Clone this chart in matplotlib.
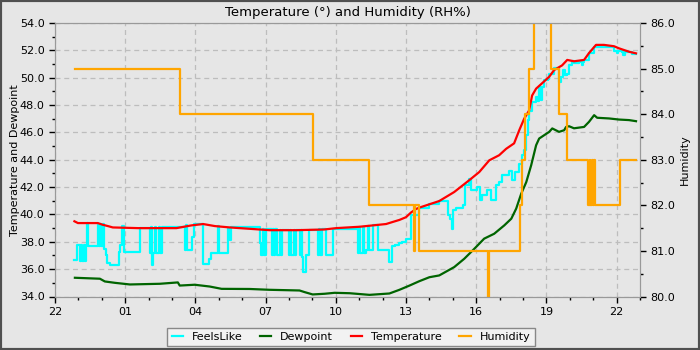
import matplotlib
matplotlib.use("Agg")
import matplotlib.pyplot as plt
from matplotlib.ticker import MultipleLocator, FixedLocator
from matplotlib.patches import Rectangle

# hours after 22:00
temp_t = [0.83, 0.98, 1.83, 2.03, 2.26, 2.47, 3.55, 5.19, 5.83, 6.33, 6.83, 7.47, 8.32, 9.17,
          10.31, 11.5, 12.02, 13.01, 13.58, 14.15, 14.43, 14.72, 15.0, 15.22, 15.43, 15.57,
          16.42, 17.06, 17.70, 18.13, 18.56, 18.98, 19.28, 19.62, 19.84, 20.05, 20.26, 20.39,
          20.56, 20.82, 21.12, 21.33, 21.67, 21.89, 22.18, 22.61, 22.82, 23.12, 23.46, 23.89,
          24.10, 24.53, 24.83]
temp_v = [39.5, 39.37, 39.37, 39.25, 39.15, 39.05, 39.0, 39.0, 39.2, 39.3, 39.15, 39.05, 38.95,
          38.85, 38.85, 38.9, 39.0, 39.1, 39.2, 39.3, 39.45, 39.6, 39.8, 40.15, 40.4, 40.5,
          40.98, 41.64, 42.5, 43.1, 43.96, 44.33, 44.8, 45.2, 46.16, 47.0, 47.6, 48.7,
          49.2, 49.6, 50.07, 50.56, 50.9, 51.3, 51.2, 51.3, 51.8, 52.4, 52.4, 52.3,
          52.15, 51.9, 51.78]

dew_t = [0.85, 1.92, 2.13, 2.56, 3.20, 4.48, 5.25, 5.33, 5.97, 6.61, 7.12, 8.32, 9.17, 10.45,
         10.67, 11.01, 11.52, 11.95, 12.59, 13.44, 14.29, 14.72, 15.15, 15.57, 16.00, 16.42,
         17.06, 17.49, 17.92, 18.34, 18.77, 19.20, 19.50, 19.71, 19.92, 20.14, 20.35, 20.56,
         20.69, 21.12, 21.25, 21.54, 21.76, 21.84, 21.97, 22.18, 22.61, 22.82, 23.04, 23.17,
         23.68, 24.10, 24.53, 24.83]
dew_v = [35.37, 35.3, 35.1, 35.0, 34.88, 34.93, 35.03, 34.8, 34.86, 34.73, 34.56, 34.55, 34.49,
         34.44, 34.32, 34.15, 34.2, 34.27, 34.24, 34.12, 34.22, 34.49, 34.8, 35.12, 35.41,
         35.54, 36.15, 36.76, 37.49, 38.23, 38.59, 39.2, 39.69, 40.43, 41.5, 42.37, 43.6,
         45.06, 45.55, 46.04, 46.29, 46.04, 46.16, 46.4, 46.45, 46.3, 46.4, 46.77, 47.26,
         47.07, 47.02, 46.94, 46.9, 46.82]

feels_t = [0.83, 0.92, 1.07, 1.12, 1.17, 1.22, 1.27, 1.32, 1.36, 1.41, 1.83, 1.88, 1.93, 1.98,
           2.03, 2.08, 2.16, 2.22, 2.35, 2.73, 2.77, 2.86, 2.94, 3.63, 4.05, 4.10, 4.14, 4.18,
           4.28, 4.33, 4.45, 4.50, 4.56, 5.55, 5.60, 5.64, 5.87, 5.94, 6.31, 6.57, 6.67, 6.98,
           7.02, 7.40, 7.46, 7.50, 8.75, 8.80, 8.87, 8.92, 9.00, 9.26, 9.32, 9.37, 9.42, 9.47,
           9.62, 9.66, 9.72, 9.98, 10.04, 10.09, 10.20, 10.25, 10.32, 10.48, 10.52, 10.54,
           10.60, 10.71, 10.84, 11.22, 11.27, 11.32, 11.43, 11.60, 11.86, 12.93, 12.98, 13.03,
           13.15, 13.20, 13.31, 13.38, 13.42, 13.57, 13.80, 14.29, 14.42, 14.55, 14.72, 14.85,
           15.02, 15.23, 15.57, 16.00, 16.42, 16.81, 16.90, 16.98, 17.02, 17.15, 17.45, 17.53,
           17.70, 17.78, 18.05, 18.17, 18.26, 18.47, 18.62, 18.84, 18.98, 19.11, 19.41, 19.54,
           19.67, 19.84, 19.95, 20.05, 20.14, 20.22, 20.26, 20.39, 20.55, 20.62, 20.69, 20.75,
           20.80, 20.90, 21.05, 21.12, 21.33, 21.54, 21.61, 21.69, 21.80, 21.86, 21.97, 22.08,
           22.18, 22.40, 22.50, 22.55, 22.61, 22.82, 23.04, 23.89, 24.00, 24.05, 24.23, 24.29,
           24.36, 24.66, 24.83]
feels_v = [36.64, 37.8, 36.6, 37.8, 36.6, 37.8, 36.6, 37.8, 39.35, 37.68, 39.3, 37.68, 39.3, 37.68,
           39.3, 37.44, 37.0, 36.47, 36.34, 37.24, 37.8, 39.13, 37.24, 39.03, 37.2, 39.05, 36.27, 37.2,
           39.05, 37.2, 39.05, 37.2, 39.05, 37.42, 39.2, 37.42, 38.34, 39.3, 36.4, 36.76, 37.2, 39.15,
           37.2, 39.0, 38.1, 39.05, 37.9, 37.0, 38.9, 37.0, 38.9, 37.0, 38.9, 37.0, 38.9, 37.0,
           38.85, 37.0, 38.85, 37.0, 38.85, 37.0, 38.85, 37.0, 38.85, 37.0, 38.85, 36.9,
           35.78, 37.0, 38.85, 37.0, 38.9, 37.0, 38.9, 37.0, 38.95, 37.15, 39.1, 37.15,
           39.1, 37.15, 37.42, 39.15, 37.42, 39.2, 37.42, 36.5, 37.66, 37.8, 37.9, 38.0,
           38.2, 39.93, 40.5, 40.75, 40.98, 39.93, 39.7, 38.96, 40.3, 40.5, 40.67, 42.13,
           42.62, 41.77, 42.0, 41.08, 41.4, 41.77, 41.03, 42.13, 42.4, 42.86, 43.2, 42.5,
           43.1, 43.72, 44.33, 44.7, 45.8, 46.9, 47.6, 48.23, 48.6, 48.3, 49.33, 48.4,
           49.33, 49.8, 49.9, 50.3, 50.68, 49.7, 50.07, 50.56, 50.2, 50.3, 50.9, 51.24,
           51.1, 51.17, 50.9, 51.17, 51.3, 51.8, 52.22, 51.97, 51.78, 51.97, 51.85, 51.66,
           51.85, 51.7, 51.7]

hum_t = [0.85, 5.33, 11.01, 13.44, 15.36, 15.40, 15.57, 18.52, 18.56, 19.88, 19.97, 20.10, 20.26,
         20.45, 21.21, 21.54, 21.88, 22.78, 22.85, 22.88, 22.93, 23.00, 23.04, 23.08, 24.15, 24.83]
hum_v = [85, 84, 83, 82, 81, 82, 81, 80, 81, 82, 83, 84, 85,
         87, 85, 84, 83, 82, 83, 82, 83, 82, 83, 82, 83, 83]

hour_ticks = [0, 3, 6, 9, 12, 15, 18, 21, 24]
hour_labels = ["22", "01", "04", "07", "10", "13", "16", "19", "22"]

bg = "#e6e6e6"
spine_c = "#999999"

fig = plt.figure(figsize=(7, 3.5), dpi=100, facecolor=bg)
ax = fig.add_axes([55/700, 1 - 296.5/350, 585/700, 273.5/350], facecolor=bg)
ax2 = ax.twinx()

l1, = ax.plot(feels_t, feels_v, color="#00ffff", lw=1.6, drawstyle="steps-post", label="FeelsLike")
l2, = ax.plot(dew_t, dew_v, color="#006400", lw=1.6, label="Dewpoint")
l3, = ax.plot(temp_t, temp_v, color="#ff0000", lw=1.6, label="Temperature")
l4, = ax2.plot(hum_t, hum_v, color="#ffa500", lw=1.6, drawstyle="steps-post", label="Humidity")

ax.set_xlim(0, 25)
ax.set_ylim(34, 54)
ax2.set_ylim(80, 86)

ax.xaxis.set_major_locator(FixedLocator(hour_ticks))
ax.set_xticklabels(hour_labels)
ax.xaxis.set_minor_locator(MultipleLocator(1))
ax.yaxis.set_major_locator(MultipleLocator(2))
ax.yaxis.set_minor_locator(MultipleLocator(1))
ax.yaxis.set_major_formatter(matplotlib.ticker.FormatStrFormatter("%.1f"))
ax2.yaxis.set_major_locator(MultipleLocator(1))
ax2.yaxis.set_minor_locator(MultipleLocator(0.5))
ax2.yaxis.set_major_formatter(matplotlib.ticker.FormatStrFormatter("%.1f"))

for a in (ax, ax2):
    a.tick_params(which="major", length=4, width=1, labelsize=8, color="black")
    a.tick_params(which="minor", length=2.5, width=1, color="black")
    for s in a.spines.values():
        s.set_color(spine_c)
ax.grid(True, which="major", color="#bdbdbd", linestyle=(0, (4, 3)), linewidth=0.9)

ax.set_ylabel("Temperature and Dewpoint", fontsize=8, labelpad=0)
ax2.set_ylabel("Humidity", fontsize=8, labelpad=3)
ax.set_title("Temperature (°) and Humidity (RH%)", fontsize=9.5, pad=5)

leg = fig.legend(handles=[l1, l2, l3, l4], loc="center", bbox_to_anchor=(351/700, 1 - 337/350),
                 ncol=4, fontsize=8, handlelength=1.0, columnspacing=1.6, fancybox=False,
                 framealpha=1, facecolor="#f2f2f2", edgecolor="#888888")

fig.patches.append(Rectangle((0, 0), 1, 1, transform=fig.transFigure, fill=False,
                             edgecolor="#505050", linewidth=3))

fig.savefig("out.png", dpi=100, facecolor=bg)
